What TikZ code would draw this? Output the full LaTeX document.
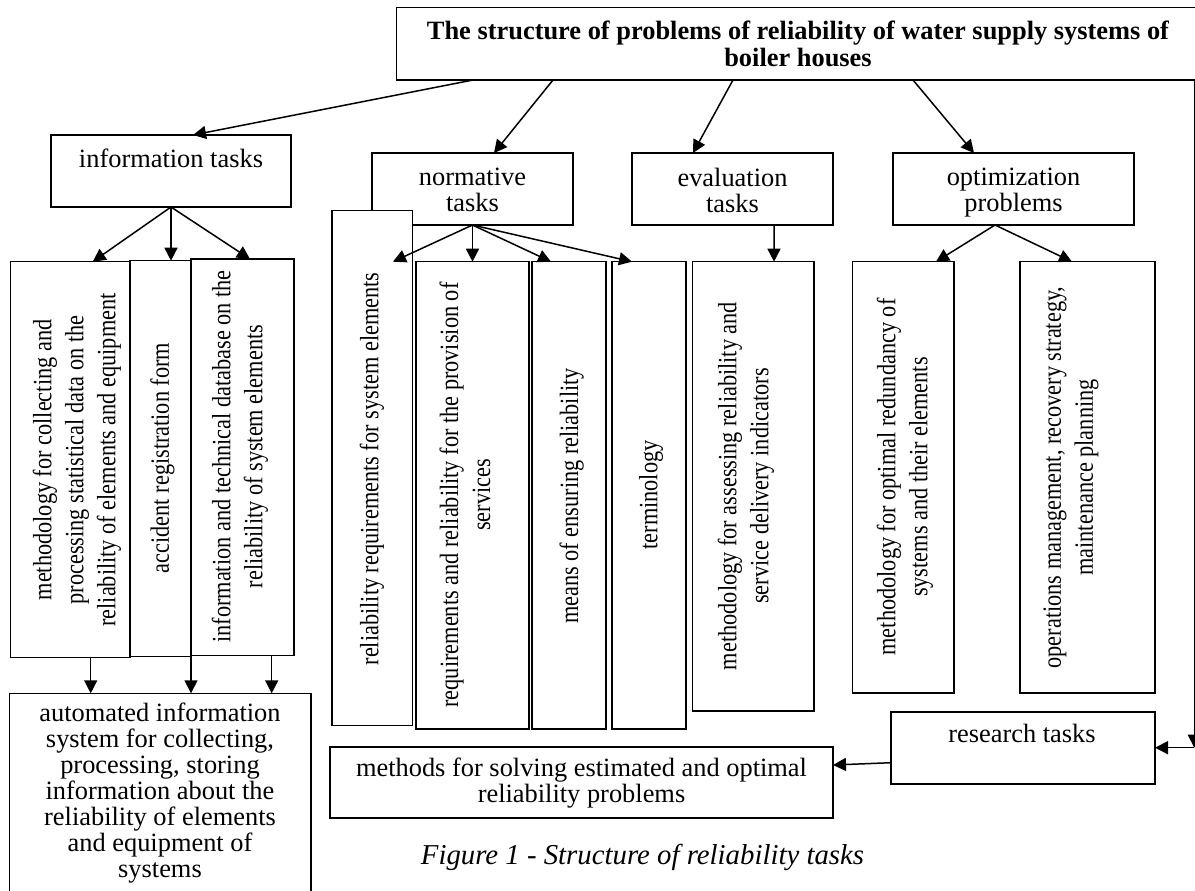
\documentclass[tikz,border=0pt]{standalone}
\usepackage{fontspec}
\setmainfont{Liberation Serif}
\newfontfamily\vserif[FakeStretch=0.845]{Liberation Serif}
\usetikzlibrary{arrows.meta,calc,fit}
\newcommand\myh{\fontsize{13.2}{13}\selectfont}
\newcommand\myv{\vserif\fontsize{13.2}{16}\selectfont}
\tikzset{
  box/.style={draw, line width=0.75pt, inner sep=0pt, outer sep=0pt, fill=white},
  htext/.style={font=\myh, align=center, inner sep=0pt},
  vtext/.style={rotate=90, font=\myv, align=center, inner sep=0pt},
  arr/.style={-{Triangle[length=6.5pt,width=6.5pt]}, line width=0.75pt},
}
\begin{document}
\begin{tikzpicture}[x=0.5pt,y=-0.5pt]
\useasboundingbox (0,0) rectangle (1195,890);
% top box
\node[box, fit={(396.5,7.3) (1205,80)}] (top) {};
\node[htext, font=\bfseries\fontsize{13.2}{13.5}\selectfont] (title) at (798,44) {The structure of problems of reliability of water supply systems of\\boiler houses};
% second level
\node[box, fit={(51,135) (291,207)}] (info) {};
\node[htext] (infot) at (171,158) {information tasks};
\node[box, fit={(372,153) (573,225)}] (norm) {};
\node[htext] (normt) at (472.5,190) {normative\\tasks};
\node[box, fit={(632,153) (833,225)}] (eval) {};
\node[htext] (evalt) at (732.5,190) {evaluation\\tasks};
\node[box, fit={(893,153) (1134,225)}] (optim) {};
\node[htext] (optimt) at (1013.5,192.5) {optimization\\problems};
% information subtasks
\node[box, fit={(10.7,261.7) (130,657.7)}] (m1) {};
\node[box, fit={(130,260.7) (191,656.7)}] (m2) {};
\node[box, fit={(191,259) (294,655.7)}] (m3) {};
\node[vtext] (m1t) at (77,460) {methodology for collecting and\\processing statistical data on the\\reliability of elements and equipment};
\node[vtext] (m2t) at (162.5,458) {accident registration form};
\node[vtext] (m3t) at (240,456.5) {information and technical database on the\\reliability of system elements};
% normative subtasks
\node[box, fit={(332,210.7) (412.5,725.7)}] (n1) {};
\node[box, fit={(416,261.7) (529,729)}] (n2) {};
\node[box, fit={(532,261.7) (606,729)}] (n3) {};
\node[box, fit={(612,261.7) (686,729)}] (n4) {};
\node[vtext] (n1t) at (372,469) {reliability requirements for system elements};
\node[vtext] (n2t) at (465,495) {requirements and reliability for the provision of\\services};
\node[vtext] (n3t) at (571.7,496) {means of ensuring reliability};
\node[vtext] (n4t) at (651,495) {terminology};
% evaluation subtask
\node[box, fit={(692.7,261.7) (814,711)}] (e1) {};
\node[vtext] (e1t) at (746,486) {methodology for assessing reliability and\\service delivery indicators};
% optimization subtasks
\node[box, fit={(852.7,261.7) (954,693)}] (o1) {};
\node[box, fit={(1020,261.7) (1155,693)}] (o2) {};
\node[vtext] (o1t) at (905,477) {methodology for optimal redundancy of\\systems and their elements};
\node[vtext] (o2t) at (1071,477.5) {operations management, recovery strategy,\\maintenance planning};
% bottom boxes
\node[box, fit={(9.6,693.3) (310.8,900)}] (auto) {};
\node[htext] (autot) at (160,793) {automated information\\system for collecting,\\processing, storing\\information about the\\reliability of elements\\and equipment of\\systems};
\node[box, fit={(330,747) (833,818)}] (meth) {};
\node[htext] (metht) at (581.5,783) {methods for solving estimated and optimal\\reliability problems};
\node[box, fit={(891,712) (1155,784)}] (res) {};
\node[htext] (rest) at (1022,733) {research tasks};
% caption
\node[htext, font=\itshape\fontsize{14.4}{15}\selectfont] (cap) at (642.5,857) {Figure 1 - Structure of reliability tasks};
% arrows from top
\draw[arr] ($(top.south west)+(76.5,0)$) -- ($(info.north west)+(142,0)$);
\draw[arr] ($(top.south west)+(156.5,0)$) -- ($(norm.north west)+(122,0)$);
\draw[arr] ($(top.south west)+(336.5,0)$) -- ($(eval.north west)+(61,0)$);
\draw[arr] ($(top.south west)+(516.5,0)$) -- ($(optim.north west)+(81,0)$);
% information arrows
\draw[arr] (info.south) -- ($(m1.north west)+(82,0)$);
\draw[arr] (info.south) -- ($(m2.north west)+(41,0)$);
\draw[arr] (info.south) -- ($(m3.north west)+(59,0)$);
% normative arrows
\draw[arr] (norm.south) -- ($(n1.east |- n2.north)+(-19.5,0)$);
\draw[arr] (norm.south) -- (n2.north);
\draw[arr] (norm.south) -- ($(n3.north west)+(19,0)$);
\draw[arr] (norm.south) -- ($(n4.north west)+(20,0)$);
% evaluation arrow
\draw[arr] ($(eval.south west)+(142,0)$) -- ($(e1.north west)+(81.3,0)$);
% optimization arrows
\draw[arr] ($(optim.south west)+(102,0)$) -- ($(o1.north west)+(83.3,0)$);
\draw[arr] ($(optim.south west)+(102,0)$) -- ($(o2.north west)+(52,0)$);
% to automated system
\draw[arr] ($(m1.south west)+(80,0)$) coordinate (a1) -- (a1 |- auto.north);
\draw[arr] (m3.south west) -- (m3.south west |- auto.north);
\draw[arr] ($(m3.south west)+(80.7,0)$) coordinate (a3) -- (a3 |- auto.north);
% research
\draw[arr] ($(res.north west)+(0,50.7)$) -- ($(meth.north east)+(0,18)$);
\coordinate (corner) at (1194.3,747.7);
\draw[arr] ($(top.south west)+(797.8,0)$) -- (corner);
\draw[arr] (corner) -- (corner -| res.east);
\end{tikzpicture}
\end{document}
